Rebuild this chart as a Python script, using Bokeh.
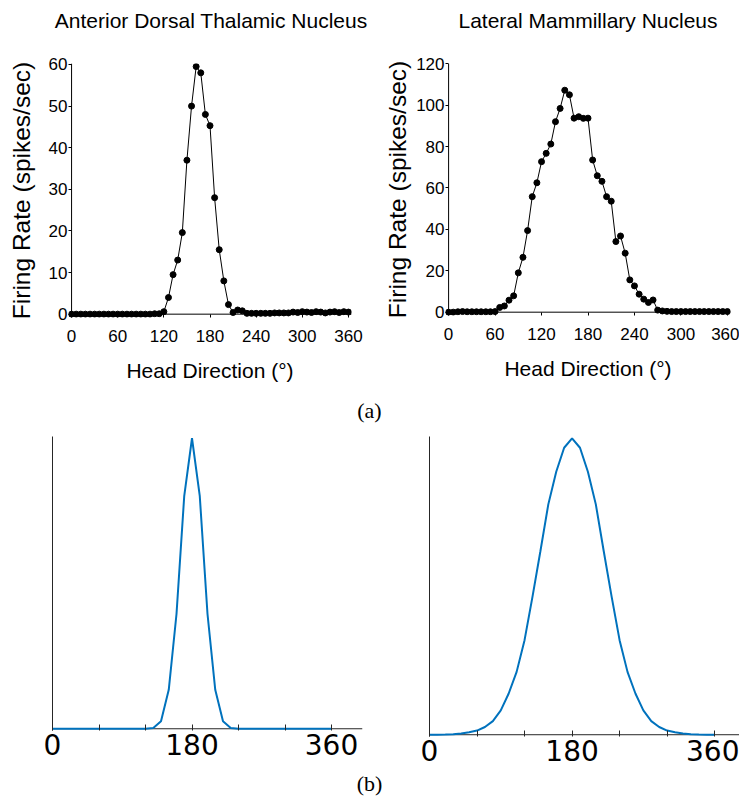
from bokeh.plotting import figure
from bokeh.layouts import column, row
from bokeh.models import Div, FixedTicker, Range1d, Span
from bokeh.embed import file_html
from bokeh.resources import INLINE

# ---------------- data ----------------
angles_a = list(range(0, 361, 6))
adn_rate = [0, 0, 0, 0, 0, 0, 0, 0, 0, 0,
            0, 0, 0, 0, 0, 0, 0, 0, 0.1, 0.1,
            0.6, 4, 9.5, 13, 19.6, 37, 50, 59.5, 58, 48,
            45.3, 28, 15.5, 8, 2.3, 0.4, 1.0, 0.8, 0.2, 0.2,
            0.2, 0.2, 0.2, 0.2, 0.3, 0.3, 0.3, 0.3, 0.5, 0.4,
            0.6, 0.5, 0.4, 0.6, 0.5, 0.3, 0.5, 0.6, 0.4, 0.6,
            0.5]
lmn_rate = [0, 0, 0.2, 0.3, 0.2, 0.2, 0.2, 0.2, 0.2, 0.2,
            0.3, 2.3, 3, 5.8, 7.9, 19, 26.5, 39.4, 55.8, 62.5,
            72.7, 76.7, 81.2, 92, 98.4, 107.2, 105, 93.7, 94.4, 93.6,
            93.7, 73.5, 65.9, 63.2, 55.8, 53.6, 34.1, 36.8, 28.5, 15.6,
            12.7, 8.7, 6.3, 4.7, 5.9, 1.0, 0.6, 0.4, 0.3, 0.3,
            0.3, 0.3, 0.3, 0.3, 0.3, 0.3, 0.3, 0.3, 0.3, 0.3,
            0.3]

angles_b = list(range(0, 361, 10))
narrow_curve = [0, 0, 0, 0, 0, 0, 0, 0, 0, 0, 0, 0, 0,
                0.003, 0.026, 0.134, 0.395, 0.802, 1.0, 0.802, 0.395, 0.134, 0.026, 0.003,
                0, 0, 0, 0, 0, 0, 0, 0, 0, 0, 0, 0, 0]
broad_curve = [0.0001, 0.0003, 0.001, 0.002, 0.004, 0.008, 0.014, 0.026, 0.046, 0.082,
               0.139, 0.212, 0.319, 0.465, 0.619, 0.777, 0.887, 0.968, 1.0,
               0.968, 0.887, 0.777, 0.619, 0.465, 0.319, 0.212, 0.139, 0.082, 0.046,
               0.026, 0.014, 0.008, 0.004, 0.002, 0.001, 0.0003, 0.0001]

titles = ["Anterior Dorsal Thalamic Nucleus", "Lateral Mammillary Nucleus"]
x_ticks_a = [0, 60, 120, 180, 240, 300, 360]
y_ticks_adn = [0, 10, 20, 30, 40, 50, 60]
y_ticks_lmn = [0, 20, 40, 60, 80, 100, 120]
x_ticks_b = [0, 60, 120, 180, 240, 300, 360]
x_labels_b = {0: "0", 60: "", 120: "", 180: "180", 240: "", 300: "", 360: "360"}

SANS = "Liberation Sans"
BLUE = "#0072BD"


def top_panel(xs, ys, y_ticks, x_end, y_start, y_end, fw, fh, mbl, mbr, mbt, mbb, ylab_standoff):
    p = figure(frame_width=fw, frame_height=fh, output_backend="svg", toolbar_location=None,
               x_range=Range1d(-4, x_end), y_range=Range1d(y_start, y_end),
               min_border_left=mbl, min_border_right=mbr, min_border_top=mbt, min_border_bottom=mbb)
    p.outline_line_color = None
    p.grid.visible = False
    p.add_layout(Span(location=0, dimension="width", line_color="black", line_width=1, level="underlay"))
    p.add_layout(Span(location=0, dimension="height", line_color="black", line_width=1, level="underlay"))
    p.line(xs, ys, line_color="black", line_width=1)
    p.scatter(xs, ys, size=6, fill_color="black", line_color="black")
    for ax in (p.xaxis[0], p.yaxis[0]):
        ax.axis_line_color = None
        ax.major_tick_line_color = "black"
        ax.minor_tick_line_color = None
        ax.major_label_text_font = SANS
        ax.major_label_text_font_size = "17px"
        ax.major_label_text_color = "black"
        ax.axis_label_text_font = SANS
        ax.axis_label_text_font_style = "normal"
        ax.axis_label_text_color = "black"
    p.xaxis.ticker = FixedTicker(ticks=x_ticks_a)
    p.xaxis.major_tick_in = 3
    p.xaxis.major_tick_out = 0
    p.xaxis.major_label_standoff = 12
    p.xaxis.axis_label = "Head Direction (°)"
    p.xaxis.axis_label_text_font_size = "21px"
    p.xaxis.axis_label_standoff = 14
    p.yaxis.ticker = FixedTicker(ticks=y_ticks)
    p.yaxis.major_tick_in = 3
    p.yaxis.major_tick_out = 0
    p.yaxis.major_label_standoff = 1
    p.yaxis.axis_label = "Firing Rate (spikes/sec)"
    p.yaxis.axis_label_text_font_size = "24.5px"
    p.yaxis.axis_label_standoff = ylab_standoff
    return p


def bottom_panel(xs, ys, x_end, fw, fh, mbl, mbr, mbt, mbb):
    p = figure(frame_width=fw, frame_height=fh, output_backend="svg", toolbar_location=None,
               x_range=Range1d(0, x_end), y_range=Range1d(-0.006, 1.006),
               min_border_left=mbl, min_border_right=mbr, min_border_top=mbt, min_border_bottom=mbb)
    p.outline_line_color = None
    p.grid.visible = False
    p.add_layout(Span(location=0, dimension="width", line_color="#262626", line_width=1, level="underlay"))
    p.line(xs, ys, line_color=BLUE, line_width=2)
    p.xaxis.ticker = FixedTicker(ticks=x_ticks_b)
    p.xaxis.major_label_overrides = x_labels_b
    p.xaxis.major_tick_in = 6
    p.xaxis.major_tick_out = 0
    p.xaxis.minor_tick_line_color = None
    p.xaxis.axis_line_color = None
    p.xaxis.major_tick_line_color = "#262626"
    p.xaxis.major_label_text_font = "DejaVu Sans"
    p.xaxis.major_label_text_font_size = "28px"
    p.xaxis.major_label_text_color = "black"
    p.xaxis.major_label_standoff = 3
    p.yaxis.ticker = FixedTicker(ticks=[])
    p.yaxis.minor_tick_line_color = None
    p.yaxis.major_tick_line_color = None
    p.yaxis.axis_line_color = "#262626"
    p.yaxis.major_label_text_font_size = "0px"
    return p


title_style = {"font-family": "'Liberation Sans'", "font-size": "21px", "line-height": "41px",
               "text-align": "center", "color": "black", "white-space": "nowrap"}
t1 = Div(text=titles[0], width=318, height=41, margin=(0, 0, 0, 52), styles=title_style)
t2 = Div(text=titles[1], width=300, height=41, margin=(0, 0, 0, 68), styles=title_style)

p1 = top_panel(angles_a, adn_rate, y_ticks_adn, 364, -0.8, 60.24,
               283, 254, 68, 19, 22, 81, 11)
p2 = top_panel(angles_a, lmn_rate, y_ticks_lmn, 364, -1.6, 120.1,
               285, 252, 75, 9, 22, 83, 2)
p3 = bottom_panel(angles_b, narrow_curve, 400, 310, 294, 52, 8, 11, 40)
p4 = bottom_panel(angles_b, broad_curve, 391.4, 310, 300, 59, 0, 6, 39)

div_style = {"font-family": "'Liberation Serif'", "font-size": "22px",
             "text-align": "center", "color": "black"}
lab_a = Div(text="(a)", width=739, height=27, margin=(0, 0, 0, 0),
            styles=dict(div_style, **{"line-height": "26px"}))
lab_b = Div(text="(b)", width=739, height=37, margin=(0, 0, 0, 0),
            styles=dict(div_style, **{"line-height": "28px"}))

layout = column(row(t1, t2), row(p1, p2), lab_a, row(p3, p4), lab_b)
open("out.html", "w").write(file_html(layout, INLINE))
